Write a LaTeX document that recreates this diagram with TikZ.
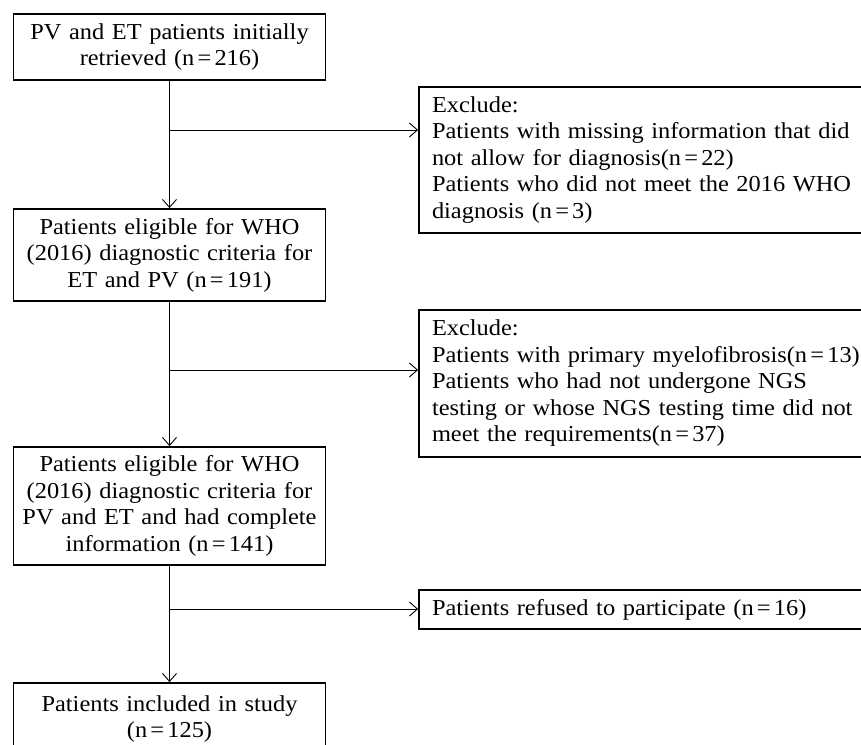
\documentclass[tikz,border=0pt]{standalone}
\usepackage{fontspec}
\setmainfont{Liberation Serif}[FakeStretch=1.07]
\usetikzlibrary{arrows.meta}
\newcommand\myeq{\hspace{0.14em}=\hspace{0.14em}}
\begin{document}
\begin{tikzpicture}[x=1pt,y=-1pt,
  txt/.style={font=\fontsize{22.8}{26.5}\selectfont},
  lbox/.style={txt, draw, line width=1.8pt, text width=312pt, inner xsep=0pt, inner ysep=0pt, align=center},
  rbox/.style={txt, draw, line width=1.8pt, text width=435pt, inner xsep=13pt, inner ysep=0pt, align=left},
  arr/.style={line width=0.9pt, -{Straight Barb[length=8pt,width=14pt,line width=0.9pt]}}
]
\useasboundingbox (0,0) rectangle (861,744);
\clip (0,0) rectangle (861,744);
\fill[white] (0,0) rectangle (861,744);

\node[lbox, minimum height=66pt] (n1) at (169.5,47) {PV and ET patients initially\\retrieved (n\myeq 216)};
\node[lbox, minimum height=92pt] (n2) at (169.5,255) {Patients eligible for WHO\\(2016) diagnostic criteria for\\ET and PV (n\myeq 191)};
\node[lbox, minimum height=118pt] (n3) at (169.5,506) {Patients eligible for WHO\\(2016) diagnostic criteria for\\PV and ET and had complete\\information (n\myeq 141)};
\node[lbox, minimum height=72pt] (n4) at (169.5,719) {Patients included in study\\(n\myeq 125)};

\node[rbox, minimum height=146pt] (e1) at (649.5,160) {Exclude:\\Patients with missing information that did\\not allow for diagnosis(n\myeq 22)\\Patients who did not meet the 2016 WHO\\diagnosis (n\myeq 3)};
\node[rbox, minimum height=147pt] (e2) at (649.5,383.5) {Exclude:\\Patients with primary myelofibrosis(n\myeq 13)\\Patients who had not undergone NGS\\testing or whose NGS testing time did not\\meet the requirements(n\myeq 37)};
\node[rbox, minimum height=39pt] (e3) at (649.5,609.5) {Patients refused to participate (n\myeq 16)};

\coordinate (c1) at (169.5,130);
\coordinate (c2) at (169.5,370);
\coordinate (c3) at (169.5,609);

\draw[arr] (n1.south) -- (n2.north);
\draw[arr] (n2.south) -- (n3.north);
\draw[arr] (n3.south) -- (n4.north);
\draw[arr] (c1) -- (c1 -| e1.west);
\draw[arr] (c2) -- (c2 -| e2.west);
\draw[arr] (c3) -- (c3 -| e3.west);
\end{tikzpicture}
\end{document}
